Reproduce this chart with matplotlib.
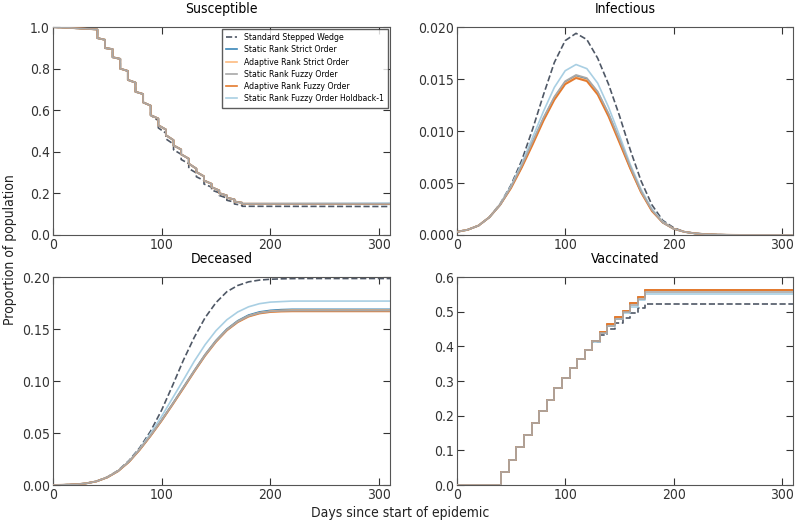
import matplotlib
matplotlib.use('Agg')
import matplotlib.pyplot as plt

plt.rcParams['font.family'] = ['DejaVu Sans']
plt.rcParams['font.stretch'] = 'condensed'

# legend names
names = ['Standard Stepped Wedge', 'Static Rank Strict Order', 'Adaptive Rank Strict Order',
         'Static Rank Fuzzy Order', 'Adaptive Rank Fuzzy Order', 'Static Rank Fuzzy Order Holdback-1']
colors = ['#4f5866', '#3a86b8', '#fdbb80', '#a8a8a8', '#e47a2e', '#a9cfe3']
widths = [1.2, 1.3, 1.2, 1.2, 1.4, 1.2]
zorders = [2, 2, 2, 4, 3, 2]

# vaccination rounds (days)
rounds = [41, 48, 55, 62, 69, 76, 83, 90, 97, 104, 111, 118, 125, 132, 139, 146, 153, 160, 167, 174]
day_end = 310

# Susceptible: level just before and just after each round
sus_start = [1.0, 0.998, 0.995, 0.992, 0.989]
sus_start_days = [0, 10, 20, 30, 40]
sus_before = [0.988, 0.939, 0.894, 0.847, 0.789, 0.733, 0.678, 0.622, 0.560, 0.507,
              0.456, 0.411, 0.367, 0.319, 0.282, 0.246, 0.214, 0.190, 0.171, 0.155]
sus_after = [0.947, 0.899, 0.855, 0.800, 0.746, 0.689, 0.638, 0.576, 0.528, 0.480,
             0.431, 0.388, 0.343, 0.303, 0.262, 0.230, 0.201, 0.179, 0.161, 0.150]
sus_std_before = [0.988, 0.939, 0.894, 0.847, 0.789, 0.733, 0.678, 0.622, 0.550, 0.490,
                  0.437, 0.388, 0.343, 0.298, 0.262, 0.230, 0.203, 0.178, 0.158, 0.143]
sus_std_after = [0.947, 0.899, 0.855, 0.800, 0.746, 0.689, 0.638, 0.576, 0.515, 0.462,
                 0.410, 0.363, 0.320, 0.280, 0.245, 0.216, 0.190, 0.167, 0.149, 0.138]
sus_final = [0.137, 0.151, 0.150, 0.150, 0.149, 0.147]

# Infectious, sampled every 10 days
days10 = list(range(0, 320, 10))
inf_std = [0.0003, 0.0005, 0.0009, 0.0017, 0.0030, 0.0048, 0.0072, 0.0102, 0.0135, 0.0166,
           0.0187, 0.0194, 0.0188, 0.0170, 0.0145, 0.0115, 0.0082, 0.0052, 0.0029, 0.0014,
           0.0007, 0.0003, 0.00015, 0.00007, 0.00003, 0.00001, 0, 0, 0, 0, 0, 0]
inf_ssr = [0.0003, 0.0005, 0.0009, 0.0017, 0.0029, 0.0046, 0.0066, 0.0089, 0.0112, 0.0132,
           0.0147, 0.0153, 0.0150, 0.0137, 0.0116, 0.0091, 0.0065, 0.0042, 0.0024, 0.0012,
           0.0006, 0.0003, 0.00015, 0.00007, 0.00003, 0.00001, 0, 0, 0, 0, 0, 0]
inf_asr = [0.0003, 0.0005, 0.0009, 0.0017, 0.0029, 0.0046, 0.0066, 0.0088, 0.0111, 0.0131,
           0.0146, 0.0152, 0.0149, 0.0136, 0.0115, 0.0090, 0.0064, 0.0041, 0.0024, 0.0012,
           0.0006, 0.0003, 0.00015, 0.00007, 0.00003, 0.00001, 0, 0, 0, 0, 0, 0]
inf_sfo = [0.0003, 0.0005, 0.0009, 0.0017, 0.0029, 0.0046, 0.0067, 0.0090, 0.0113, 0.0133,
           0.0148, 0.0154, 0.0151, 0.0138, 0.0117, 0.0092, 0.0066, 0.0042, 0.0024, 0.0012,
           0.0006, 0.0003, 0.00015, 0.00007, 0.00003, 0.00001, 0, 0, 0, 0, 0, 0]
inf_afo = [0.0003, 0.0005, 0.0009, 0.0017, 0.0029, 0.0045, 0.0065, 0.0087, 0.0110, 0.0130,
           0.0145, 0.0151, 0.0148, 0.0135, 0.0114, 0.0089, 0.0064, 0.0041, 0.0023, 0.0012,
           0.0006, 0.0003, 0.00015, 0.00007, 0.00003, 0.00001, 0, 0, 0, 0, 0, 0]
inf_hb1 = [0.0003, 0.0005, 0.0009, 0.0017, 0.0030, 0.0047, 0.0069, 0.0094, 0.0119, 0.0142,
           0.0158, 0.0164, 0.0160, 0.0146, 0.0123, 0.0096, 0.0068, 0.0044, 0.0025, 0.0013,
           0.0006, 0.0003, 0.00015, 0.00007, 0.00003, 0.00001, 0, 0, 0, 0, 0, 0]

# Deceased, sampled every 10 days
dec_std = [0, 0.0002, 0.0006, 0.0015, 0.0036, 0.0076, 0.0140, 0.0235, 0.0360, 0.0520,
           0.0720, 0.0955, 0.1200, 0.1420, 0.1610, 0.1755, 0.1860, 0.1920, 0.1955, 0.1972,
           0.1980, 0.1984, 0.1986, 0.1987, 0.1987, 0.1987, 0.1987, 0.1987, 0.1987, 0.1987, 0.1987, 0.1987]
dec_ssr = [0, 0.0002, 0.0006, 0.0015, 0.0035, 0.0074, 0.0135, 0.0225, 0.0345, 0.0480,
           0.0625, 0.0780, 0.0940, 0.1100, 0.1255, 0.1390, 0.1500, 0.1580, 0.1635, 0.1665,
           0.1680, 0.1687, 0.1690, 0.1690, 0.1690, 0.1690, 0.1690, 0.1690, 0.1690, 0.1690, 0.1690, 0.1690]
dec_asr = [0, 0.0002, 0.0006, 0.0015, 0.0035, 0.0074, 0.0134, 0.0224, 0.0343, 0.0478,
           0.0622, 0.0776, 0.0935, 0.1095, 0.1250, 0.1384, 0.1494, 0.1574, 0.1628, 0.1658,
           0.1673, 0.1680, 0.1683, 0.1683, 0.1683, 0.1683, 0.1683, 0.1683, 0.1683, 0.1683, 0.1683, 0.1683]
dec_sfo = [0, 0.0002, 0.0006, 0.0015, 0.0035, 0.0074, 0.0134, 0.0224, 0.0343, 0.0478,
           0.0622, 0.0776, 0.0935, 0.1094, 0.1248, 0.1382, 0.1492, 0.1572, 0.1626, 0.1656,
           0.1670, 0.1676, 0.1678, 0.1678, 0.1678, 0.1678, 0.1678, 0.1678, 0.1678, 0.1678, 0.1678, 0.1678]
dec_afo = [0, 0.0002, 0.0006, 0.0015, 0.0035, 0.0073, 0.0133, 0.0222, 0.0340, 0.0474,
           0.0618, 0.0772, 0.0930, 0.1090, 0.1244, 0.1378, 0.1488, 0.1567, 0.1621, 0.1651,
           0.1665, 0.1670, 0.1672, 0.1672, 0.1672, 0.1672, 0.1672, 0.1672, 0.1672, 0.1672, 0.1672, 0.1672]
dec_hb1 = [0, 0.0002, 0.0006, 0.0015, 0.0035, 0.0075, 0.0137, 0.0230, 0.0350, 0.0500,
           0.0660, 0.0835, 0.1010, 0.1190, 0.1350, 0.1485, 0.1590, 0.1665, 0.1715, 0.1745,
           0.1760, 0.1765, 0.1770, 0.1770, 0.1770, 0.1770, 0.1770, 0.1770, 0.1770, 0.1770, 0.1770, 0.1770]

# Vaccinated: level after each round
vac_std = [0.037, 0.072, 0.109, 0.145, 0.179, 0.2135, 0.246, 0.279, 0.309, 0.337,
           0.364, 0.390, 0.413, 0.433, 0.450, 0.467, 0.481, 0.496, 0.510, 0.524]
vac_strat = [0.037, 0.072, 0.109, 0.145, 0.179, 0.2135, 0.246, 0.279, 0.309, 0.337,
             0.364, 0.391, 0.417, 0.442, 0.464, 0.484, 0.503, 0.525, 0.544, 0.563]
vac_sfo = [0.037, 0.072, 0.109, 0.145, 0.179, 0.2135, 0.246, 0.279, 0.309, 0.337,
           0.364, 0.390, 0.415, 0.439, 0.460, 0.480, 0.499, 0.519, 0.538, 0.557]
vac_hb1 = [0.037, 0.072, 0.109, 0.145, 0.179, 0.2135, 0.246, 0.279, 0.309, 0.337,
           0.364, 0.390, 0.414, 0.438, 0.459, 0.478, 0.497, 0.515, 0.533, 0.551]

inf_all = [inf_std, inf_ssr, inf_asr, inf_sfo, inf_afo, inf_hb1]
dec_all = [dec_std, dec_ssr, dec_asr, dec_sfo, dec_afo, dec_hb1]
vac_all = [vac_std, vac_strat, vac_strat, vac_sfo, vac_strat, vac_hb1]


def staircase(before, after, final):
    xs = list(sus_start_days)
    ys = list(sus_start)
    for d, b, a in zip(rounds, before, after):
        xs += [d, d]
        ys += [b, a]
    xs += [day_end]
    ys += [final]
    return xs, ys


fig = plt.figure(figsize=(8, 5.21), dpi=100)
ax_s = fig.add_axes([0.066, 0.549, 0.4215, 0.399])
ax_i = fig.add_axes([0.571, 0.549, 0.42, 0.399])
ax_d = fig.add_axes([0.066, 0.069, 0.4215, 0.399])
ax_v = fig.add_axes([0.571, 0.069, 0.42, 0.399])

for k in range(6):
    ls = '--' if k == 0 else '-'
    kw = dict(color=colors[k], lw=widths[k], zorder=zorders[k])
    if k == 0:
        xs, ys = staircase(sus_std_before, sus_std_after, sus_final[k])
    else:
        xs, ys = staircase(sus_before, sus_after, sus_final[k])
    ax_s.plot(xs, ys, ls, label=names[k], **kw)
    ax_i.plot(days10, inf_all[k], ls, **kw)
    ax_d.plot(days10, dec_all[k], ls, **kw)
    vx = [0] + rounds + [day_end]
    vy = [0] + vac_all[k] + [vac_all[k][-1]]
    ax_v.plot(vx, vy, ls, drawstyle='steps-post', **kw)

panels = [(ax_s, 'Susceptible', 1.0, [0, 0.2, 0.4, 0.6, 0.8, 1.0], '%.1f'),
          (ax_i, 'Infectious', 0.02, [0, 0.005, 0.01, 0.015, 0.02], '%.3f'),
          (ax_d, 'Deceased', 0.2, [0, 0.05, 0.1, 0.15, 0.2], '%.2f'),
          (ax_v, 'Vaccinated', 0.6, [0, 0.1, 0.2, 0.3, 0.4, 0.5, 0.6], '%.1f')]
for ax, title, top, yt, fmt in panels:
    ax.set_xlim(0, 310)
    ax.set_ylim(0, top)
    ax.set_xticks([0, 100, 200, 300])
    ax.set_yticks(yt)
    ax.set_yticklabels([fmt % v for v in yt])
    ax.set_title(title, fontsize=10, pad=10)
    ax.tick_params(direction='in', top=True, right=True, labelsize=10, length=5,
                   colors='#333333', pad=2)
    for sp in ax.spines.values():
        sp.set_color('#555555')

leg = ax_s.legend(loc='upper right', fontsize=6.2, handlelength=1.3, frameon=True,
                  fancybox=False, borderaxespad=0.2, labelspacing=0.38, borderpad=0.5)
leg.get_frame().set_edgecolor('#333333')
leg.get_frame().set_linewidth(1.0)
for line in leg.get_lines():
    line.set_linewidth(1.2)

fig.text(0.013, 0.52, 'Proportion of population', rotation=90, ha='center', va='center',
         fontsize=10, color='#222222')
fig.text(0.5, 0.015, 'Days since start of epidemic', ha='center', va='center',
         fontsize=10, color='#222222')

fig.savefig('out.png', dpi=100)
